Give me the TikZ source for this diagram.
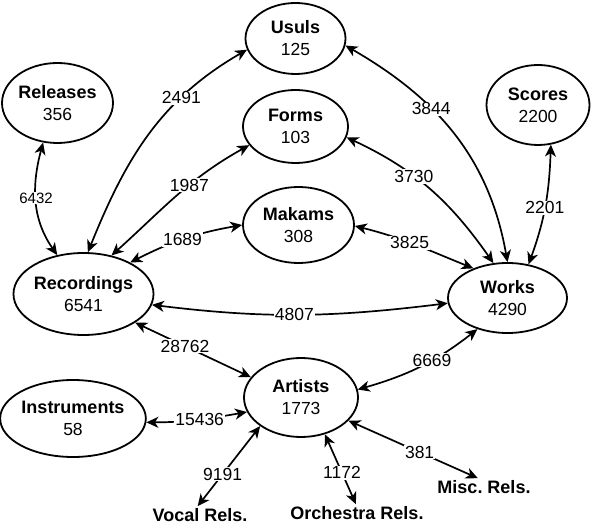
\documentclass[tikz,border=0pt]{standalone}
\usepackage{fontspec}
\setmainfont{Liberation Sans}
\usetikzlibrary{arrows.meta,shapes.geometric}

\begin{document}
\frenchspacing
\begin{tikzpicture}[x=1pt,y=1pt]
  \tikzstyle{ent}=[ellipse,draw,line width=1.8pt,inner sep=0pt,align=center,font=\fontsize{17.5}{22}\selectfont]
  \tikzstyle{grp}=[inner sep=2pt,font=\bfseries\fontsize{18}{20}\selectfont]
  \tikzstyle{lnk}=[line width=1.7pt,{Stealth[length=12pt,width=11pt,inset=3.5pt]}-{Stealth[length=12pt,width=11pt,inset=3.5pt]}]
  \tikzstyle{cnt}=[fill=white,inner sep=1pt,font=\fontsize{17.5}{20}\selectfont]

  \useasboundingbox (0,0) rectangle (593,527);

  \node[ent,minimum width=100pt,minimum height=71pt] (usu) at (295.5,488.5) {\textbf{\fontsize{18}{22}\selectfont Usuls}\\125};
  \node[ent,minimum width=111pt,minimum height=80pt] (rel) at (57.5,424) {\textbf{\fontsize{18}{22}\selectfont Releases}\\356};
  \node[ent,minimum width=105pt,minimum height=73pt] (frm) at (295.5,400.5) {\textbf{\fontsize{18}{22}\selectfont Forms}\\103};
  \node[ent,minimum width=111pt,minimum height=76pt] (mak) at (298.5,302) {\textbf{\fontsize{18}{22}\selectfont Makams}\\308};
  \node[ent,minimum width=103pt,minimum height=80pt] (sco) at (538,422) {\textbf{\fontsize{18}{22}\selectfont Scores}\\2200};
  \node[ent,minimum width=119pt,minimum height=82pt] (rec) at (83.5,233) {\textbf{\fontsize{18}{22}\selectfont Recordings}\\6541};
  \node[ent,minimum width=119pt,minimum height=70pt] (wrk) at (507.5,229) {\textbf{\fontsize{18}{22}\selectfont Works}\\4290};
  \node[ent,minimum width=114pt,minimum height=79pt] (art) at (301,129.5) {\textbf{\fontsize{18}{22}\selectfont Artists}\\1773};
  \node[ent,minimum width=131pt,minimum height=77pt] (ins) at (73,108.5) {\textbf{\fontsize{18}{22}\selectfont Instruments}\\58};

  \node[grp] (voc) at (200,12) {Vocal Rels.};
  \node[grp] (orc) at (357,14) {Orchestra Rels.};
  \node[grp] (misc) at (484,40) {Misc. Rels.};

  \draw[lnk] (rel.250) to[out=-105,in=125] node[cnt,pos=0.47,font=\fontsize{15}{18}\selectfont] {6432} (rec.124);
  \draw[lnk] (rec.84) to[out=68,in=210] node[cnt,pos=0.7] {2491} (usu.193);
  \draw[lnk] (rec.54) to[out=42,in=209] node[cnt,pos=0.6] {1987} (frm.202);
  \draw[lnk] (rec.34) to[out=27,in=190] node[cnt,pos=0.48] {1689} (mak.180);
  \draw[lnk] (usu.-8) to[out=-30,in=100] node[cnt,pos=0.37] {3844} (wrk.90);
  \draw[lnk] (frm.-12) to[out=-25,in=125] node[cnt,pos=0.39] {3730} (wrk.112);
  \draw[lnk] (mak.-1) to[out=-14,in=158] node[cnt,pos=0.45] {3825} (wrk.139);
  \draw[lnk] (sco.-72) to[out=-92,in=70] node[cnt,pos=0.52] {2201} (wrk.58);
  \draw[lnk] (rec.-9) to[out=-7,in=187] node[cnt,pos=0.48] {4807} (wrk.185);
  \draw[lnk] (rec.-29) -- node[cnt,pos=0.43] {28762} (art.158);
  \draw[lnk] (wrk.226) to[out=218,in=16] node[cnt,pos=0.4] {6669} (art.8);
  \draw[lnk] (ins.-3) to[out=0,in=190] node[cnt,pos=0.53] {15436} (art.195);
  \draw[lnk] (art.215) -- node[cnt,pos=0.6] {9191} (voc.105);
  \draw[lnk] (art.-57) -- node[cnt,pos=0.55] {1172} (orc.97);
  \draw[lnk] (art.-26) -- node[cnt,pos=0.55] {381} (misc.125);
\end{tikzpicture}
\end{document}
